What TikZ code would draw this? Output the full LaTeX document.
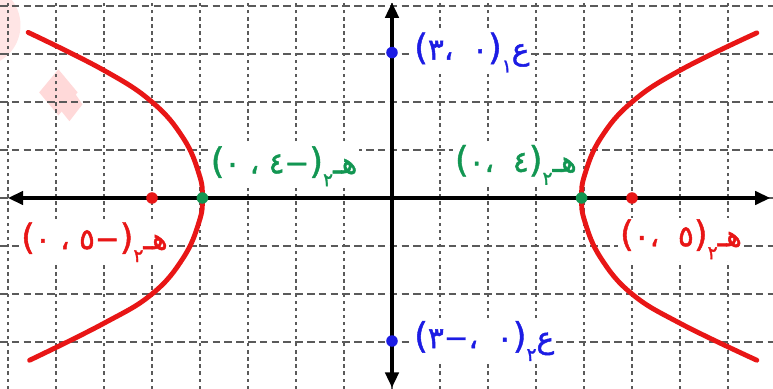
\documentclass[tikz,border=0pt]{standalone}
\usepackage{fontspec}
\usetikzlibrary{arrows.meta}
\newfontfamily\arfont[Script=Arabic,FakeBold=1.6]{DejaVu Sans}
\newfontfamily\plfont[FakeBold=1.2]{DejaVu Sans}
\definecolor{cred}{RGB}{232,22,22}
\definecolor{cgreen}{RGB}{18,150,82}
\definecolor{cblue}{RGB}{28,28,228}
\definecolor{gridc}{RGB}{90,90,90}
\newcommand{\A}[1]{\hbox{#1}}
\newcommand{\LP}{\hbox{\fontsize{21}{21}\plfont (}}
\newcommand{\RP}{\hbox{\fontsize{21}{21}\plfont )}}
\newcommand{\MN}{\hbox{\plfont −}}
\newcommand{\Sb}[1]{\raisebox{-0.8ex}{\fontsize{11}{11}\arfont #1}}
\tikzset{
  hgrid/.style={gridc, line width=0.8pt, dash pattern=on 4.5pt off 2.5pt},
  vgrid/.style={gridc, line width=0.8pt, dash pattern=on 2pt off 2.2pt},
  axis/.style={black, line width=1.8pt, {Triangle[length=9pt,width=8pt]}-{Triangle[length=9pt,width=8pt]}},
  branch/.style={cred, line width=2.9pt, line cap=round},
  dot/.style={circle, inner sep=0pt, minimum size=2.4mm},
  lbl/.style={font=\fontsize{17.5}{20}\arfont, fill=white, inner sep=1pt},
}
\begin{document}
\begin{tikzpicture}
\fill[white] (-8.1667,-3.979) rectangle (7.9375,4.125);
\useasboundingbox (-8.1667,-3.979) rectangle (7.9375,4.125);
% faint watermark
\fill[red!10] (-8.6,3.6) circle (0.86);
\fill[red!15] (-7.35,2.2) -- (-6.95,2.68) -- (-6.55,2.2) -- (-6.95,1.72) -- cycle;
\fill[red!15] (-7.0,1.95) -- (-6.72,2.35) -- (-6.45,1.95) -- (-6.72,1.6) -- cycle;
% grid
\foreach \x in {-8,...,7} \draw[vgrid] (\x,-3.979) -- (\x,4.125);
\foreach \y in {-3,...,4} \draw[hgrid] (-8.1667,\y) -- (7.9375,\y);
% axes
\coordinate (xl) at (-8.0,0);
\coordinate (xr) at (7.88,0);
\coordinate (yb) at (0,-3.95);
\coordinate (yt) at (0,4.07);
\draw[axis] (xl) -- (xr);
\draw[axis] (yb) -- (yt);
% hyperbola branches
\draw[branch] plot[smooth, tension=0.7] coordinates {(-7.58,3.45) (-6.02,2.67) (-5.0,2.0) (-4.35,1.25) (-4.02,0.5) (-3.95,0) (-4.02,-0.5) (-4.35,-1.25) (-5.0,-2.0) (-6.02,-2.62) (-7.55,-3.38)};
\draw[branch] plot[smooth, tension=0.7] coordinates {(7.6,3.44) (6.02,2.67) (5.0,2.0) (4.35,1.25) (4.02,0.5) (3.95,0) (4.02,-0.5) (4.35,-1.25) (5.0,-2.0) (6.02,-2.62) (7.6,-3.38)};
% points
\node[dot, fill=cred] (F1) at (-5,0) {};
\node[dot, fill=cred] (F2) at (5,0) {};
\node[dot, fill=cgreen] (V1) at (-3.95,0) {};
\node[dot, fill=cgreen] (V2) at (3.95,0) {};
\node[dot, fill=cblue] (B1) at (0,3.03) {};
\node[dot, fill=cblue] (B2) at (0,-2.98) {};
% labels
\node[lbl, text=cblue, anchor=west] (LB1) at (0.42,3.03) {\LP\A{٣}\A{،}\ \ \A{٠}\RP\Sb{١}\A{ع}};
\node[lbl, text=cblue, anchor=west] (LB2) at (0.42,-2.98) {\LP\A{٣}\MN\A{،}\ \ \A{٠}\RP\Sb{٢}\A{ع}};
\node[lbl, text=cgreen] (LV1) at (-2.25,0.66) {\LP\A{٠}\ \A{،}\ \A{٤}\MN\RP\Sb{٢}\A{هـ}};
\node[lbl, text=cgreen] (LV2) at (2.58,0.69) {\LP\A{٠}\A{،}\ \ \A{٤}\RP\Sb{٢}\A{هـ}};
\node[lbl, text=cred] (LF1) at (-6.2,-0.92) {\LP\A{٠}\ \A{،}\ \A{٥}\MN\RP\Sb{٢}\A{هـ}};
\node[lbl, text=cred] (LF2) at (6.02,-0.86) {\LP\A{٠}\A{،}\ \ \A{٥}\RP\Sb{٢}\A{هـ}};
\end{tikzpicture}
\end{document}
